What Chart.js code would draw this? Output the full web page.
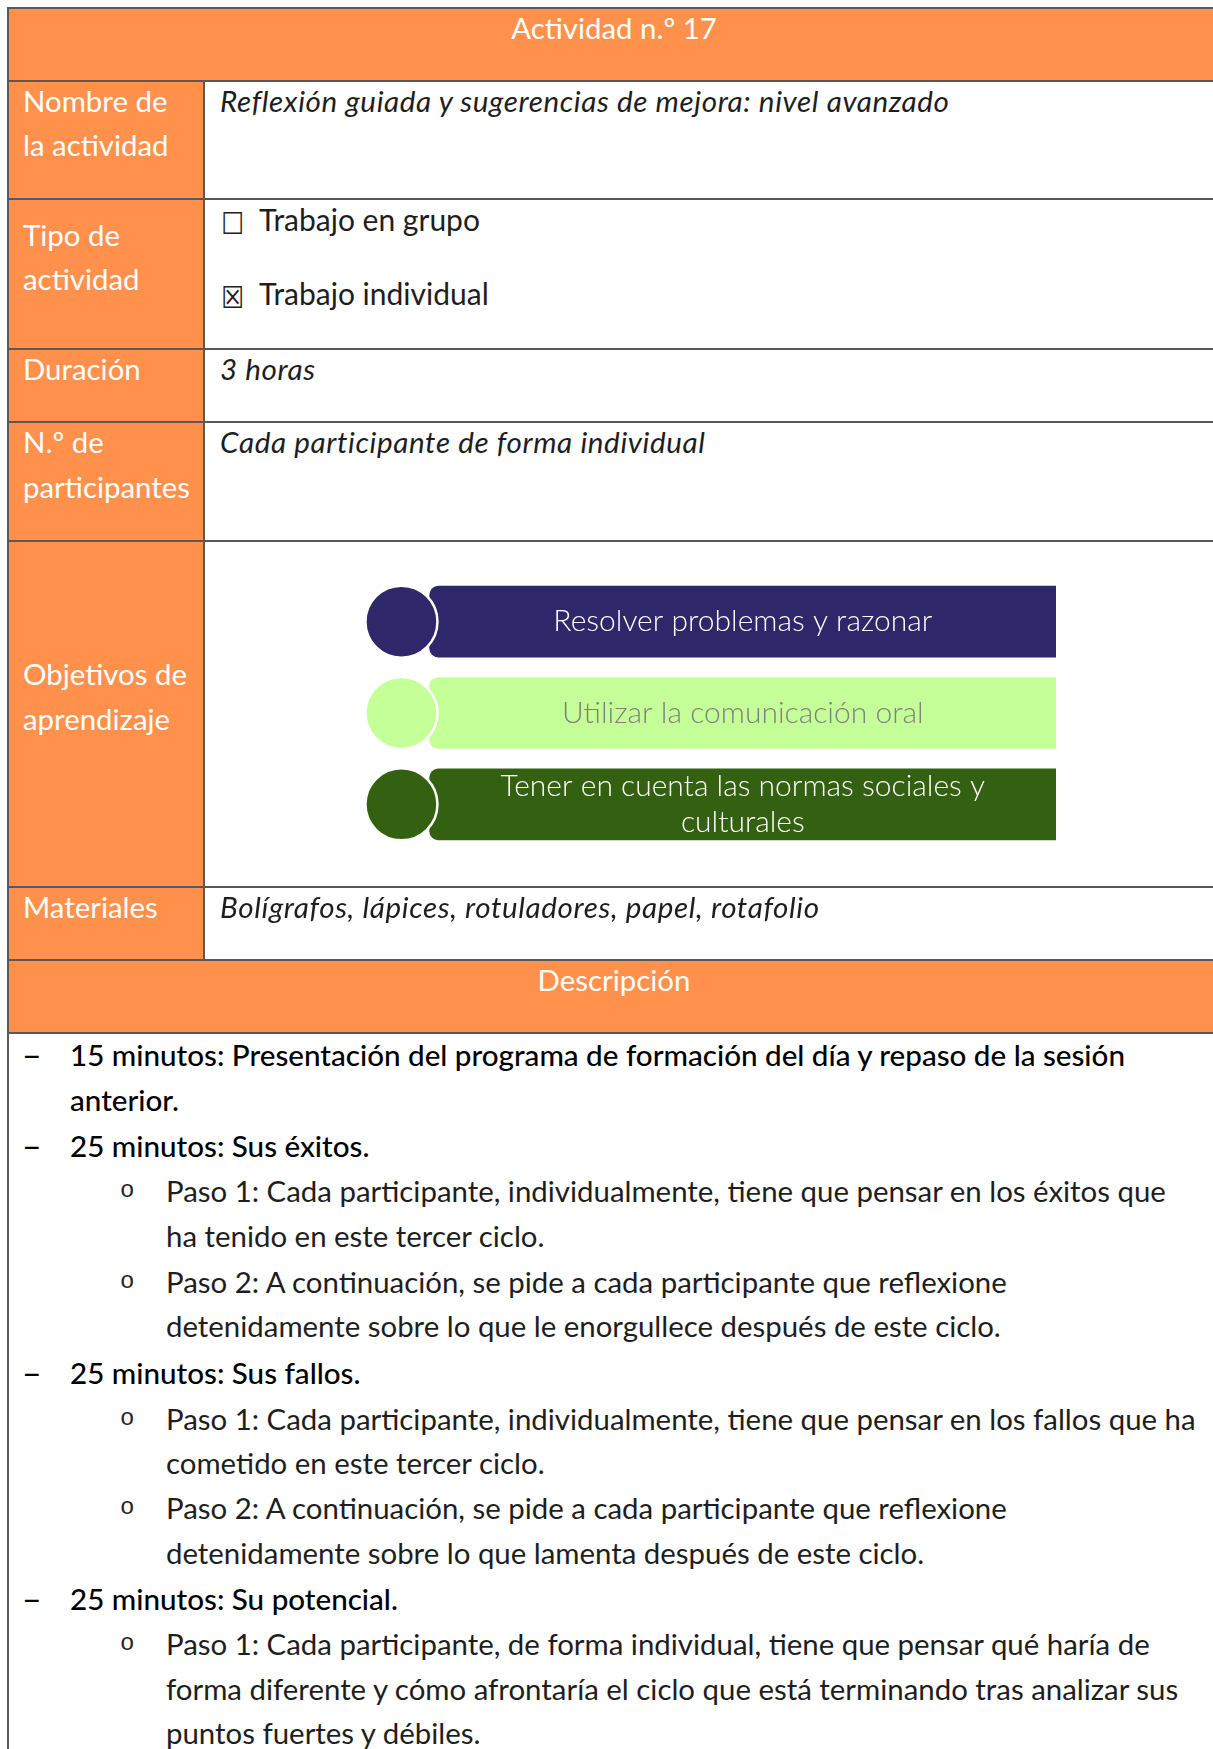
<!DOCTYPE html>
<html lang="es">
<head>
<meta charset="utf-8">
<title>Actividad n.º 17</title>
<script src="https://cdn.jsdelivr.net/npm/chart.js@4/dist/chart.umd.min.js"></script>
<style>
  html, body { margin: 0; padding: 0; }
  body { width: 1213px; height: 1749px; overflow: hidden; background: #fff; position: relative;
         font-family: Lato, "Open Sans", "Noto Sans", sans-serif; }
  .fill { position: absolute; background: #ff914d; }
  .ln { position: absolute; background: #595959; }
  .t { position: absolute; white-space: nowrap; font-size: 29.4px; line-height: 44.6px; color: #1e1e1e; font-weight: 400; }
  .w { color: #fff; font-weight: 400; font-size: 29.4px; }
  .i { font-style: italic; letter-spacing: 0.62px; font-size: 29.6px; }
  .tr { font-size: 30px; }
  .c { transform: translateX(-50%); }
  .n1 { font-weight: 500; color: #000; font-size: 29.6px; }
  .box { position: absolute; font-family: "DejaVu Sans", sans-serif; font-size: 30px; line-height: 30px; color: #222;
         transform: scaleX(0.85); transform-origin: left; }
  .dash { position: absolute; font-weight: 700; font-size: 26px; line-height: 44.6px; transform: scaleX(1.3); transform-origin: left; }
  .bul { position: absolute; font-family: "Liberation Mono", monospace; font-size: 24px; line-height: 44.6px; color: #222; }
  #objetivos { position: absolute; left: 205px; top: 542px; }
</style>
</head>
<body>

<!-- fondos naranjas -->
<div class="fill" style="left:9px;top:9px;width:1204px;height:71px"></div>
<div class="fill" style="left:9px;top:82px;width:194px;height:877px"></div>
<div class="fill" style="left:9px;top:961px;width:1204px;height:71px"></div>

<!-- bordes -->
<div class="ln" style="left:7px;top:7px;width:1206px;height:2px"></div>
<div class="ln" style="left:7px;top:7px;width:2px;height:1742px"></div>
<div class="ln" style="left:203px;top:80px;width:2px;height:881px"></div>
<div class="ln" style="left:7px;top:80px;width:1206px;height:2px"></div>
<div class="ln" style="left:7px;top:198px;width:1206px;height:2px"></div>
<div class="ln" style="left:7px;top:348px;width:1206px;height:2px"></div>
<div class="ln" style="left:7px;top:421px;width:1206px;height:2px"></div>
<div class="ln" style="left:7px;top:540px;width:1206px;height:2px"></div>
<div class="ln" style="left:7px;top:886px;width:1206px;height:2px"></div>
<div class="ln" style="left:7px;top:959px;width:1206px;height:2px"></div>
<div class="ln" style="left:7px;top:1032px;width:1206px;height:2px"></div>

<!-- cabecera -->
<div class="t w c" style="left:614px;top:6.2px">Actividad n.º 17</div>

<!-- columna izquierda -->
<div class="t w" style="left:23px;top:78.9px">Nombre de<br>la actividad</div>
<div class="t w" style="left:23px;top:212.8px">Tipo de<br>actividad</div>
<div class="t w" style="left:23px;top:346.7px">Duración</div>
<div class="t w" style="left:23px;top:420.2px">N.º de<br>participantes</div>
<div class="t w" style="left:23px;top:652.2px">Objetivos de<br>aprendizaje</div>
<div class="t w" style="left:23px;top:884.6px">Materiales</div>

<!-- columna derecha -->
<div class="t i" style="left:220px;top:78.9px">Reflexión guiada y sugerencias de mejora: nivel avanzado</div>
<div class="box" style="left:221px;top:209.4px">☐</div>
<div class="t tr" style="left:259px;top:197.2px">Trabajo en grupo</div>
<div class="box" style="left:221px;top:283.4px">☒</div>
<div class="t tr" style="left:259px;top:270.9px">Trabajo individual</div>
<div class="t i" style="left:220px;top:346.7px">3 horas</div>
<div class="t i" style="left:220px;top:420.2px">Cada participante de forma individual</div>
<canvas id="objetivos" width="1008" height="344"></canvas>
<div class="t i" style="left:220px;top:884.6px">Bolígrafos, lápices, rotuladores, papel, rotafolio</div>

<div class="t w c" style="left:614px;top:958.2px">Descripción</div>

<!-- descripción -->
<div class="dash" style="left:22px;top:1033.2px">–</div>
<div class="t n1" style="left:70px;top:1033.2px">15 minutos: Presentación del programa de formación del día y repaso de la sesión<br>anterior.</div>
<div class="dash" style="left:22px;top:1124.2px">–</div>
<div class="t n1" style="left:70px;top:1124.2px">25 minutos: Sus éxitos.</div>
<div class="bul" style="left:120px;top:1169.2px">o</div>
<div class="t" style="left:166px;top:1169.2px">Paso 1: Cada participante, individualmente, tiene que pensar en los éxitos que<br>ha tenido en este tercer ciclo.</div>
<div class="bul" style="left:120px;top:1259.6px">o</div>
<div class="t" style="left:166px;top:1259.6px">Paso 2: A continuación, se pide a cada participante que reflexione<br>detenidamente sobre lo que le enorgullece después de este ciclo.</div>
<div class="dash" style="left:22px;top:1351.2px">–</div>
<div class="t n1" style="left:70px;top:1351.2px">25 minutos: Sus fallos.</div>
<div class="bul" style="left:120px;top:1396.6px">o</div>
<div class="t" style="left:166px;top:1396.6px">Paso 1: Cada participante, individualmente, tiene que pensar en los fallos que ha<br>cometido en este tercer ciclo.</div>
<div class="bul" style="left:120px;top:1486.2px">o</div>
<div class="t" style="left:166px;top:1486.2px">Paso 2: A continuación, se pide a cada participante que reflexione<br>detenidamente sobre lo que lamenta después de este ciclo.</div>
<div class="dash" style="left:22px;top:1577.2px">–</div>
<div class="t n1" style="left:70px;top:1577.2px">25 minutos: Su potencial.</div>
<div class="bul" style="left:120px;top:1622.2px">o</div>
<div class="t" style="left:166px;top:1622.2px">Paso 1: Cada participante, de forma individual, tiene que pensar qué haría de<br>forma diferente y cómo afrontaría el ciclo que está terminando tras analizar sus<br>puntos fuertes y débiles.</div>

<script>
// objetivos de aprendizaje (lista SmartArt)
const objetivos = [
  'Resolver problemas y razonar',
  'Utilizar la comunicación oral',
  'Tener en cuenta las normas sociales y culturales'
];
const longitudes = [1, 1, 1];

const coloresBarra = ['#2e276a', '#c5ff98', '#336111'];
const coloresTexto = ['#ffffff', '#808080', '#ffffff'];
const MARCA_X = -0.045;   // el circulo va a la izquierda de cada barra

// parte el texto en lineas que quepan en la barra
function partir(ctx, texto, maxW) {
  var palabras = texto.split(' ');
  var lineas = [];
  var actual = '';
  palabras.forEach(function(p) {
    var prueba = actual ? actual + ' ' + p : p;
    if (ctx.measureText(prueba).width > maxW && actual) {
      lineas.push(actual);
      actual = p;
    } else {
      actual = prueba;
    }
  });
  lineas.push(actual);
  return lineas;
}

const textoBarras = {
  id: 'textoBarras',
  afterDatasetsDraw(chart) {
    const ctx = chart.ctx;
    const meta = chart.getDatasetMeta(1);
    ctx.save();
    ctx.font = '300 30px Lato';
    ctx.textAlign = 'center';
    ctx.textBaseline = 'middle';
    meta.data.forEach(function(bar, i) {
      const p = bar.getProps(['x', 'y', 'base'], true);
      const cx = (p.x + p.base) / 2;
      const lineas = partir(ctx, objetivos[i], 540);
      const alto = 36;
      ctx.fillStyle = coloresTexto[i];
      lineas.forEach(function(l, j) {
        ctx.fillText(l, cx, p.y + (j - (lineas.length - 1) / 2) * alto);
      });
    });
    ctx.restore();
  }
};

new Chart(document.getElementById('objetivos'), {
  type: 'bar',
  data: {
    labels: objetivos,
    datasets: [
      {
        type: 'line',
        data: objetivos.map(function() { return MARCA_X; }),
        showLine: false,
        pointRadius: 36,
        pointHoverRadius: 36,
        pointBackgroundColor: coloresBarra,
        pointBorderColor: '#ffffff',
        pointBorderWidth: 2.5,
        clip: false,
        order: 0
      },
      {
        data: longitudes,
        backgroundColor: coloresBarra,
        borderWidth: 0,
        borderSkipped: false,
        borderRadius: { topLeft: 9, bottomLeft: 9, topRight: 0, bottomRight: 0 },
        barThickness: 71,
        order: 1
      }
    ]
  },
  options: {
    indexAxis: 'y',
    responsive: false,
    animation: false,
    layout: { autoPadding: false, padding: { left: 162, right: 157, top: 34, bottom: 36 } },
    scales: {
      x: { type: 'linear', min: -0.1, max: 1, display: false },
      y: { type: 'category', offset: true, display: false }
    },
    plugins: { legend: { display: false }, tooltip: { enabled: false } }
  },
  plugins: [textoBarras]
});
</script>
</body>
</html>
